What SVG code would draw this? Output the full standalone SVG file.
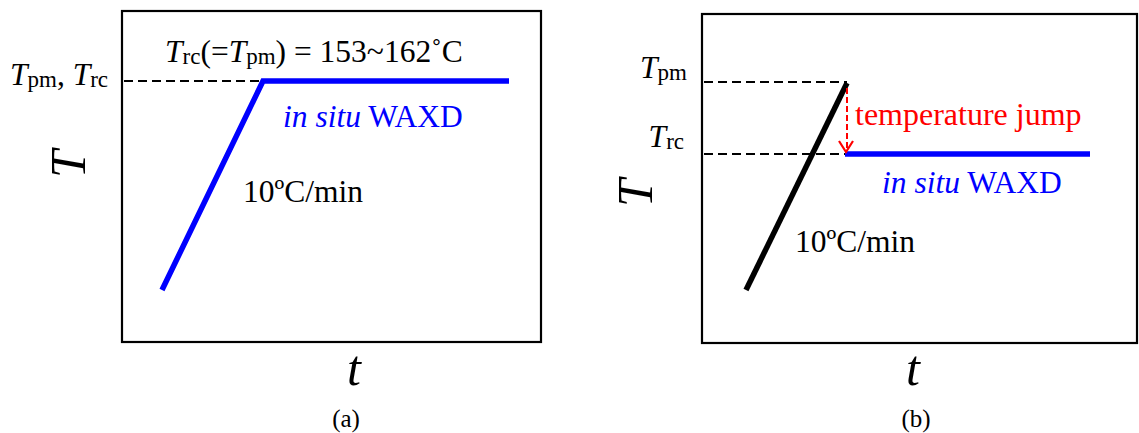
<svg xmlns="http://www.w3.org/2000/svg" width="1139" height="433" viewBox="0 0 1139 433">
<style>
text{font-family:"Liberation Serif","Times New Roman",serif;fill:#000}
.lbl{font-size:31.5px}
.sub{font-size:23px}
.it{font-style:italic}
.blue{fill:#0000ff}
.red{fill:#ff0000}
.frame{fill:none;stroke:#000;stroke-width:2.2}
.dash{fill:none;stroke:#000;stroke-width:2.2;stroke-dasharray:9 5}
.bl{fill:none;stroke:#0000ff;stroke-width:5.5;stroke-linecap:butt;stroke-linejoin:miter}
.bk{fill:none;stroke:#000;stroke-width:5.5}
.axis{font-size:50px;font-style:italic}
.cap{font-size:25px}
</style>
<g id="panel-a">
<rect id="frame-a" class="frame" x="122" y="11" width="419" height="331"/>
<g id="connectors-a">
<line class="dash" x1="124" y1="81" x2="263" y2="81"/>
<polyline class="bl" points="162,290 263,81 509,81"/>
</g>
<g id="label-tpm-trc-a">
<text class="lbl" x="10" y="85"><tspan class="it">T</tspan><tspan class="sub" dy="2">pm</tspan><tspan dy="-2">, </tspan><tspan class="it">T</tspan><tspan class="sub" dy="2">rc</tspan></text>
</g>
<g id="label-range-a">
<text class="lbl" x="165" y="62"><tspan class="it">T</tspan><tspan class="sub" dy="2">rc</tspan><tspan dy="-2">(=</tspan><tspan class="it">T</tspan><tspan class="sub" dy="2">pm</tspan><tspan dy="-2">) = 153~162˚C</tspan></text>
</g>
<g id="label-waxd-a">
<text class="lbl blue" x="283" y="127"><tspan class="it">in situ</tspan> WAXD</text>
</g>
<g id="label-rate-a">
<text class="lbl" x="243" y="202">10ºC/min</text>
</g>
<g id="axis-a">
<text class="axis" text-anchor="middle" transform="translate(85,164) rotate(-90)">T</text>
<text class="axis" x="354" y="385" text-anchor="middle">t</text>
<text class="cap" x="346" y="427" text-anchor="middle">(a)</text>
</g>
</g>
<g id="panel-b">
<rect id="frame-b" class="frame" x="702" y="14" width="435" height="329"/>
<g id="connectors-b">
<line class="dash" x1="704" y1="82" x2="847" y2="82"/>
<line class="dash" x1="704" y1="154" x2="845" y2="154"/>
<line class="bk" x1="746" y1="290" x2="847" y2="83"/>
<line class="bl" x1="845" y1="154" x2="1090" y2="154"/>
<line x1="847" y1="88" x2="847" y2="150" stroke="#ff0000" stroke-width="2" stroke-dasharray="6 3"/>
<polyline points="839,141 846,152 853,141" fill="none" stroke="#ff0000" stroke-width="2.2"/>
</g>
<g id="label-tpm-b">
<text class="lbl" x="687" y="78" text-anchor="end"><tspan class="it">T</tspan><tspan class="sub" dy="2">pm</tspan></text>
</g>
<g id="label-trc-b">
<text class="lbl" x="684" y="147" text-anchor="end"><tspan class="it">T</tspan><tspan class="sub" dy="2">rc</tspan></text>
</g>
<g id="label-jump-b">
<text class="lbl red" x="855" y="125" style="font-size:32px">temperature jump</text>
</g>
<g id="label-waxd-b">
<text class="lbl blue" x="882" y="193"><tspan class="it">in situ</tspan> WAXD</text>
</g>
<g id="label-rate-b">
<text class="lbl" x="795" y="252">10ºC/min</text>
</g>
<g id="axis-b">
<text class="axis" text-anchor="middle" transform="translate(652,193) rotate(-90)">T</text>
<text class="axis" x="913" y="385" text-anchor="middle">t</text>
<text class="cap" x="916" y="427" text-anchor="middle">(b)</text>
</g>
</g>
</svg>
